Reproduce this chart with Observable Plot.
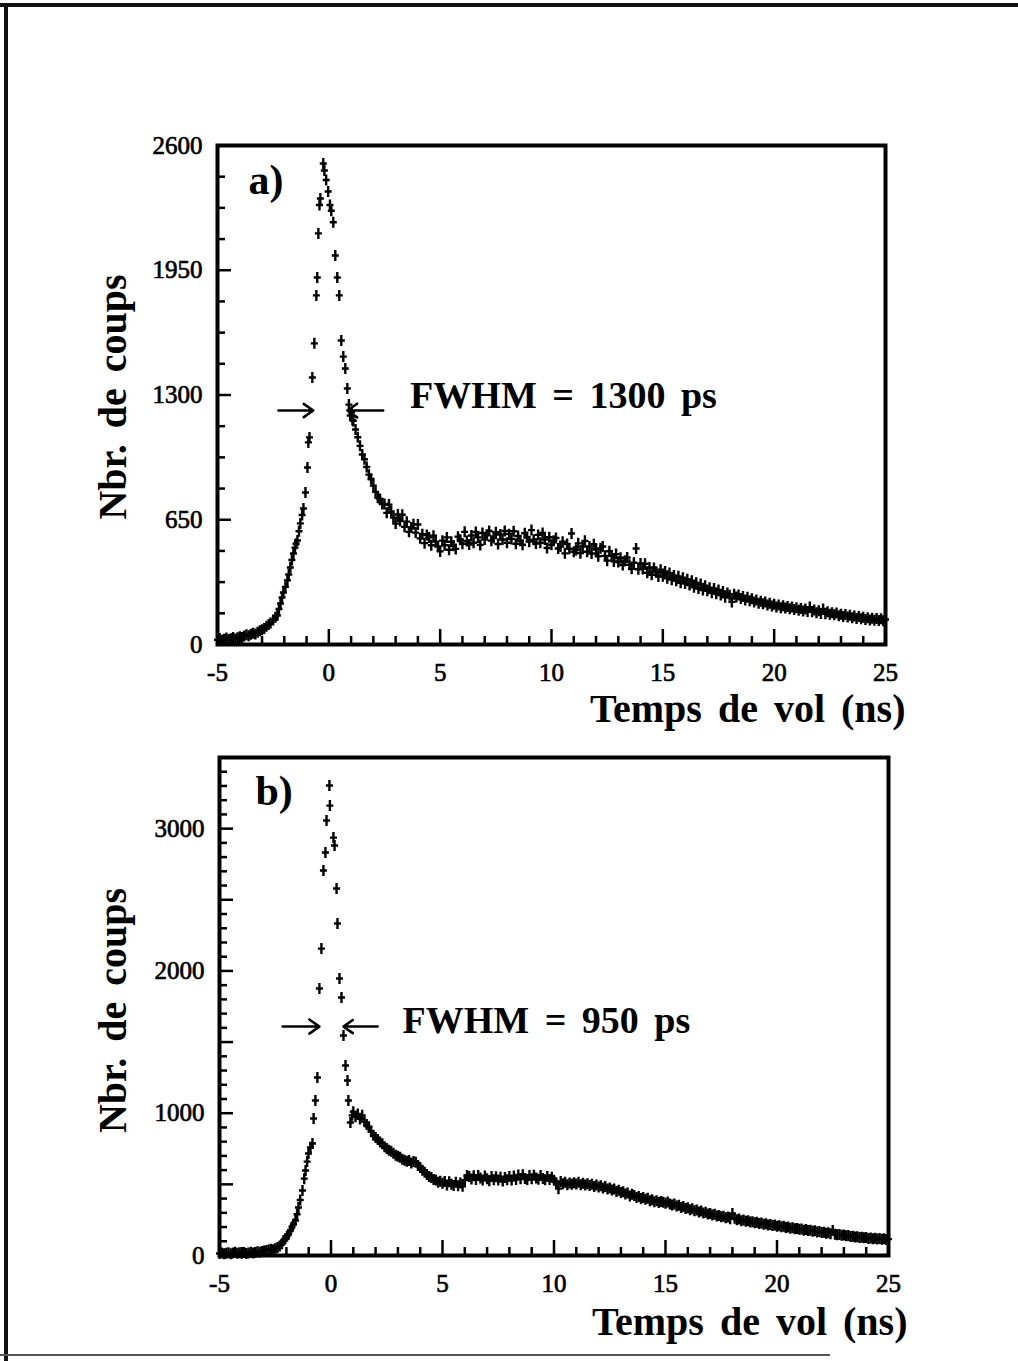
<!DOCTYPE html>
<html>
<head>
<meta charset="utf-8">
<script src="https://cdn.jsdelivr.net/npm/d3@7"></script>
<script src="https://cdn.jsdelivr.net/npm/@observablehq/plot@0.6"></script>
<style>
  body { margin: 0; background: #fff; }
  #page { position: relative; width: 1018px; height: 1361px; background: #fff; overflow: hidden; }
  #pa { position: absolute; left: 0; top: 0; }
  #pb { position: absolute; left: 0; top: 740px; }
  #page svg text { word-spacing: 6px; }
  #page svg g[aria-label$="tick label"] text { stroke: #000; stroke-width: 0.7px; }
  .bt { position: absolute; left: 0; top: 3px; width: 1018px; height: 4px; background: #111; z-index: 5; }
  .bl { position: absolute; left: 4px; top: 3px; width: 4px; height: 1358px; background: #111; z-index: 5; }
  .bb { position: absolute; left: 0; top: 1354px; width: 830px; height: 2px; background: #555; z-index: 5; }
</style>
</head>
<body>
<div id="page">
  <div id="pa"></div>
  <div id="pb"></div>
  <div class="bt"></div><div class="bl"></div><div class="bb"></div>
</div>
<script>
// ---- tick values ----
const xMajor = [-5, 0, 5, 10, 15, 20, 25];
const xMinor = [-4,-3,-2,-1,1,2,3,4,6,7,8,9,11,12,13,14,16,17,18,19,21,22,23,24];
const yMajorA = [0, 650, 1300, 1950, 2600];
const yMinorA = [162.5, 325, 487.5, 812.5, 975, 1137.5, 1462.5, 1625, 1787.5, 2112.5, 2275, 2437.5];
const yMajorB = [0, 1000, 2000, 3000];
const yMidB = [500, 1500, 2500];
const yMinorB = [100,200,300,400,600,700,800,900,1100,1200,1300,1400,1600,1700,1800,1900,2100,2200,2300,2400,2600,2700,2800,2900,3100,3200,3300,3400];

// ---- texts ----
const xTitle = "Temps de vol (ns)";
const yTitle = "Nbr. de coups";
const letterA = "a)";
const letterB = "b)";
const fwhmA = [{text: "FWHM = 1300 ps", t: 3.65, v: 1230}];
const fwhmB = [{text: "FWHM = 950 ps", t: 3.21, v: 1567}];
const arrowsA = [{t1: -2.26, t2: -0.70, v: 1219}, {t1: 2.44, t2: 0.83, v: 1219}];
const arrowsB = [{t1: -2.17, t2: -0.52, v: 1609}, {t1: 2.09, t2: 0.56, v: 1609}];

// ---- data: [time (ns), counts] ----
const panelA = [
[-5.0,24],[-4.9,31],[-4.8,22],[-4.7,28],[-4.6,34],[-4.5,26],[-4.4,30],[-4.3,37],[-4.2,29],[-4.1,35],[-4.0,40],[-3.9,36],[-3.8,44],[-3.7,51],[-3.6,46],[-3.5,54],[-3.4,58],[-3.3,55],[-3.2,64],[-3.1,72],[-3.0,77],[-2.9,84],[-2.8,95],[-2.7,104],[-2.62,112],[-2.5,128],[-2.4,142],[-2.31,151],[-2.24,185],[-2.17,214],[-2.1,245],[-2.04,271],[-1.95,300],[-1.86,334],[-1.8,365],[-1.73,401],[-1.66,440],[-1.59,474],[-1.52,505],[-1.47,525],[-1.41,542],[-1.34,590],[-1.28,631],[-1.2,675],[-1.14,709],[-1.05,792],[-0.96,922],[-0.92,1053],[-0.87,1079],[-0.74,1391],[-0.65,1569],[-0.56,1819],[-0.52,1912],[-0.47,2142],[-0.42,2290],[-0.38,2324],[-0.25,2506],[-0.2,2470],[-0.12,2420],[-0.03,2360],[0.05,2290],[0.11,2260],[0.2,2200],[0.29,2027],[0.38,1912],[0.47,1819],[0.56,1584],[0.65,1500],[0.74,1438],[0.83,1334],[0.9,1250],[0.96,1193],[1.02,1210],[1.06,1170],
[1.1,1165],[1.2,1120],[1.3,1080],[1.4,1035],[1.5,990],[1.6,965],[1.7,925],[1.8,885],[1.9,862],[2.0,828],[2.1,795],[2.2,765],[2.3,758],[2.4,732],[2.5,732],[2.6,686],[2.7,729],[2.8,693],[2.9,661],[3.0,630],[3.1,677],[3.2,644],[3.3,676],[3.4,613],[3.5,640],[3.6,587],[3.7,609],[3.8,626],[3.9,583],[4.0,625],[4.1,553],[4.2,575],[4.3,528],[4.4,570],[4.5,558],[4.6,517],[4.7,567],[4.8,536],[4.9,511],[5.0,485],
[5.1,541],[5.2,517],[5.3,558],[5.4,494],[5.5,535],[5.6,514],[5.7,498],[5.8,562],[5.9,546],[6.0,525],[6.1,587],[6.2,539],[6.3,521],[6.4,568],[6.5,530],[6.6,586],[6.7,558],[6.8,519],[6.9,581],[7.0,547],[7.1,572],[7.2,591],[7.3,541],[7.4,555],[7.5,585],[7.6,524],[7.7,573],[7.8,547],[7.9,591],[8.0,530],[8.1,575],[8.2,550],[8.3,590],[8.4,525],[8.5,565],[8.6,540],[8.7,520],[8.8,580],[8.9,560],[9.0,536],[9.1,596],[9.2,546],[9.3,526],[9.4,571],[9.5,530],[9.6,581],[9.7,547],[9.8,503],[9.9,559],[10.0,520],
[10.1,540],[10.2,555],[10.3,500],[10.4,510],[10.5,535],[10.6,475],[10.7,524],[10.8,499],[10.9,578],[11.0,483],[11.1,492],[11.2,527],[11.3,476],[11.4,511],[11.5,540],[11.6,483],[11.7,511],[11.8,474],[11.9,522],[12.0,495],[12.1,460],[12.2,501],[12.3,511],[12.4,462],[12.5,437],[12.6,486],[12.7,464],[12.8,433],[12.9,471],[13.0,430],[13.1,452],[13.2,414],[13.3,436],[13.4,453],[13.5,415],[13.6,395],[13.7,426],[13.8,500],[13.9,392],[14.0,422],[14.1,394],[14.2,421],[14.3,374],[14.4,401],[14.5,363],[14.6,398],[14.7,379],[14.8,354],[14.9,390],[15.0,355],
[15.1,380],[15.2,345],[15.3,372],[15.4,338],[15.5,360],[15.6,332],[15.7,355],[15.8,322],[15.9,348],[16.0,318],[16.1,340],[16.2,310],[16.3,332],[16.4,298],[16.5,322],[16.6,292],[16.7,315],[16.8,284],[16.9,306],[17.0,280],[17.1,296],[17.2,270],[17.3,292],[17.4,264],[17.5,284],[17.6,258],[17.7,276],[17.8,246],[17.9,268],[18.0,256],[18.1,222],[18.2,262],[18.3,248],[18.4,258],[18.5,240],[18.6,250],[18.7,232],[18.8,246],[18.9,228],[19.0,238],[19.1,222],[19.2,232],[19.3,215],[19.4,226],[19.5,212],[19.6,222],[19.7,206],[19.8,215],[19.9,200],[20.0,210],
[20.1,196],[20.2,206],[20.3,192],[20.4,202],[20.5,190],[20.6,198],[20.7,186],[20.8,196],[20.9,182],[21.0,192],[21.1,178],[21.2,188],[21.3,175],[21.4,185],[21.5,172],[21.6,195],[21.7,170],[21.8,180],[21.9,166],[22.0,176],[22.1,162],[22.2,185],[22.3,160],[22.4,170],[22.5,158],[22.6,166],[22.7,155],[22.8,164],[22.9,150],[23.0,158],[23.1,146],[23.2,156],[23.3,143],[23.4,152],[23.5,140],[23.6,148],[23.7,136],[23.8,146],[23.9,134],[24.0,142],[24.1,130],[24.2,140],[24.3,128],[24.4,137],[24.5,126],[24.6,135],[24.7,125],[24.8,134],[24.9,124],[25.0,130]
];

const panelB = [
[-5.0,14],[-4.9,18],[-4.8,12],[-4.7,16],[-4.6,20],[-4.5,13],[-4.4,17],[-4.3,22],[-4.2,15],[-4.1,19],[-4.0,16],[-3.9,21],[-3.8,14],[-3.7,18],[-3.6,23],[-3.5,17],[-3.4,21],[-3.3,26],[-3.2,22],[-3.1,28],[-3.0,31],[-2.9,35],[-2.8,38],[-2.7,44],[-2.6,41],[-2.5,48],[-2.4,56],[-2.3,66],[-2.2,82],[-2.13,105],[-2.05,118],[-1.97,135],[-1.9,150],[-1.82,176],[-1.75,200],[-1.68,222],[-1.59,246],[-1.52,290],[-1.46,337],[-1.38,390],[-1.28,457],[-1.2,540],[-1.14,597],[-1.07,660],[-1.01,717],[-0.92,760],[-0.83,787],[-0.78,963],[-0.7,1089],[-0.61,1251],[-0.52,1876],[-0.43,2157],[-0.34,2706],[-0.25,2832],[-0.2,3057],[-0.07,3303],[-0.05,3162],[0.11,2937],[0.16,2881],[0.25,2579],[0.29,2333],[0.38,1947],[0.47,1813],[0.56,1546],[0.65,1335],[0.74,1230],[0.78,1089],[0.87,935],[0.95,985],[1.0,1010],
[1.1,975],[1.2,995],[1.3,960],[1.4,985],[1.5,940],[1.6,920],[1.7,905],[1.8,870],[1.9,845],[2.0,830],[2.1,815],[2.2,798],[2.3,785],[2.4,765],[2.5,752],[2.6,740],[2.7,732],[2.8,718],[2.9,705],[3.0,698],[3.1,690],[3.2,676],[3.3,670],[3.4,662],[3.5,668],[3.6,650],[3.7,660],[3.8,655],[3.9,632],[4.0,618],[4.1,600],[4.2,585],[4.3,570],[4.4,556],[4.5,548],[4.6,535],[4.7,530],[4.8,515],[4.9,522],[5.0,508],
[5.1,520],[5.2,495],[5.3,518],[5.4,500],[5.5,492],[5.6,515],[5.7,490],[5.8,510],[5.9,486],[6.0,530],[6.1,562],[6.2,555],[6.3,538],[6.4,560],[6.5,534],[6.6,562],[6.7,545],[6.8,530],[6.9,558],[7.0,540],[7.1,526],[7.2,556],[7.3,532],[7.4,554],[7.5,530],[7.6,550],[7.7,524],[7.8,548],[7.9,532],[8.0,555],[8.1,530],[8.2,558],[8.3,535],[8.4,566],[8.5,540],[8.6,568],[8.7,542],[8.8,534],[8.9,562],[9.0,540],[9.1,564],[9.2,544],[9.3,536],[9.4,562],[9.5,542],[9.6,532],[9.7,556],[9.8,534],[9.9,550],[10.0,528],
[10.1,512],[10.2,470],[10.3,520],[10.4,505],[10.5,515],[10.6,498],[10.7,510],[10.8,500],[10.9,512],[11.0,502],[11.1,515],[11.2,498],[11.3,508],[11.4,495],[11.5,505],[11.6,492],[11.7,500],[11.8,485],[11.9,495],[12.0,482],[12.1,490],[12.2,475],[12.3,485],[12.4,468],[12.5,475],[12.6,460],[12.7,468],[12.8,450],[12.9,458],[13.0,442],[13.1,448],[13.2,432],[13.3,440],[13.4,418],[13.5,430],[13.6,422],[13.7,408],[13.8,415],[13.9,400],[14.0,408],[14.1,395],[14.2,402],[14.3,385],[14.4,392],[14.5,378],[14.6,385],[14.7,372],[14.8,380],[14.9,375],[15.0,368],
[15.1,376],[15.2,362],[15.3,355],[15.4,362],[15.5,348],[15.6,354],[15.7,338],[15.8,345],[15.9,330],[16.0,335],[16.1,322],[16.2,328],[16.3,315],[16.4,320],[16.5,306],[16.6,312],[16.7,298],[16.8,304],[16.9,292],[17.0,296],[17.1,285],[17.2,290],[17.3,278],[17.4,282],[17.5,272],[17.6,276],[17.7,265],[17.8,270],[17.9,258],[18.0,295],[18.1,262],[18.2,252],[18.3,256],[18.4,245],[18.5,250],[18.6,240],[18.7,245],[18.8,235],[18.9,238],[19.0,230],[19.1,234],[19.2,225],[19.3,228],[19.4,220],[19.5,223],[19.6,215],[19.7,218],[19.8,210],[19.9,214],[20.0,205],
[20.1,209],[20.2,202],[20.3,205],[20.4,196],[20.5,200],[20.6,192],[20.7,195],[20.8,188],[20.9,190],[21.0,184],[21.1,186],[21.2,178],[21.3,182],[21.4,175],[21.5,178],[21.6,170],[21.7,174],[21.8,166],[21.9,168],[22.0,162],[22.1,164],[22.2,156],[22.3,160],[22.4,152],[22.5,175],[22.6,150],[22.7,146],[22.8,148],[22.9,142],[23.0,144],[23.1,138],[23.2,140],[23.3,134],[23.4,136],[23.5,130],[23.6,132],[23.7,126],[23.8,129],[23.9,124],[24.0,126],[24.1,120],[24.2,123],[24.3,118],[24.4,121],[24.5,116],[24.6,119],[24.7,114],[24.8,117],[24.9,112],[25.0,115]
];

// ---- marker: "+" with a longer vertical arm ----
const crossSymbol = {
  draw(context, size) {
    const r = Math.sqrt(size / Math.PI);
    const h = r * 1.1, w = r * 0.7;
    context.moveTo(0, -h); context.lineTo(0, h);
    context.moveTo(-w, 0); context.lineTo(w, 0);
  }
};

const FONT = "'Liberation Serif', 'Times New Roman', serif";

function drawPanel(cfg) {
  return Plot.plot({
    width: 1018,
    height: cfg.height,
    marginTop: cfg.mt, marginBottom: cfg.mb, marginLeft: cfg.ml, marginRight: cfg.mr,
    style: {background: "transparent", fontFamily: FONT, fontSize: "25px", color: "#000", overflow: "visible"},
    x: {domain: [-5, 25], label: null},
    y: {domain: cfg.yDomain, label: null},
    marks: [
      Plot.axisX(xMinor, {tickSize: -8, tickPadding: 0, tickFormat: () => "", strokeWidth: 2.5, label: null}),
      Plot.axisX(xMajor, {tickSize: -15, tickPadding: 34, tickFormat: d => String(d), strokeWidth: 2.5, fontSize: 25, label: null}),
      Plot.axisY(cfg.yMinor, {tickSize: -8, tickPadding: 0, tickFormat: () => "", strokeWidth: 2.5, label: null}),
      cfg.yMid ? Plot.axisY(cfg.yMid, {tickSize: -14, tickPadding: 0, tickFormat: () => "", strokeWidth: 2.5, label: null}) : null,
      Plot.axisY(cfg.yMajor, {tickSize: -14, tickPadding: 29, tickFormat: d => String(d), strokeWidth: 2.5, fontSize: 25, label: null}),
      Plot.frame({stroke: "#000", strokeWidth: 4}),
      Plot.dot(cfg.data, {x: d => d[0], y: d => d[1], symbol: crossSymbol, r: 5, fill: "none", stroke: "#000", strokeWidth: 2.4}),
      Plot.arrow(cfg.arrows, {x1: "t1", x2: "t2", y1: "v", y2: "v", stroke: "#000", strokeWidth: 2.6, headLength: 12, headAngle: 70}),
      Plot.text(cfg.fwhm, {x: "t", y: "v", text: "text", textAnchor: "start", lineAnchor: "bottom", fontSize: 38, fontWeight: "bold", fill: "#000"}),
      Plot.text([cfg.letter], {frameAnchor: "top-left", text: d => d, dx: cfg.letterDx, dy: cfg.letterDy, textAnchor: "start", lineAnchor: "bottom", fontSize: 42, fontWeight: "bold", fill: "#000"}),
      Plot.text([yTitle], {frameAnchor: "left", text: d => d, rotate: -90, dx: cfg.yTitleDx, dy: cfg.yTitleDy, textAnchor: "middle", lineAnchor: "middle", fontSize: 40, fontWeight: "bold", fill: "#000"}),
      Plot.text([xTitle], {frameAnchor: "bottom-right", text: d => d, dx: cfg.xTitleDx, dy: cfg.xTitleDy, textAnchor: "end", lineAnchor: "bottom", fontSize: 40, fontWeight: "bold", fill: "#000"})
    ]
  });
}

document.getElementById("pa").append(drawPanel({
  height: 740, mt: 145, mb: 96, ml: 217, mr: 133,
  yDomain: [0, 2600], yMajor: yMajorA, yMinor: yMinorA, yMid: null,
  data: panelA, arrows: arrowsA, fwhm: fwhmA, letter: letterA,
  letterDx: 31, letterDy: 48,
  yTitleDx: -104, yTitleDy: 2,
  xTitleDx: 20, xTitleDy: 77
}));

document.getElementById("pb").append(drawPanel({
  height: 621, mt: 17, mb: 106, ml: 219, mr: 130,
  yDomain: [0, 3500], yMajor: yMajorB, yMinor: yMinorB, yMid: yMidB,
  data: panelB, arrows: arrowsB, fwhm: fwhmB, letter: letterB,
  letterDx: 36, letterDy: 47,
  yTitleDx: -106, yTitleDy: 4,
  xTitleDx: 19, xTitleDy: 79
}));
</script>
</body>
</html>
